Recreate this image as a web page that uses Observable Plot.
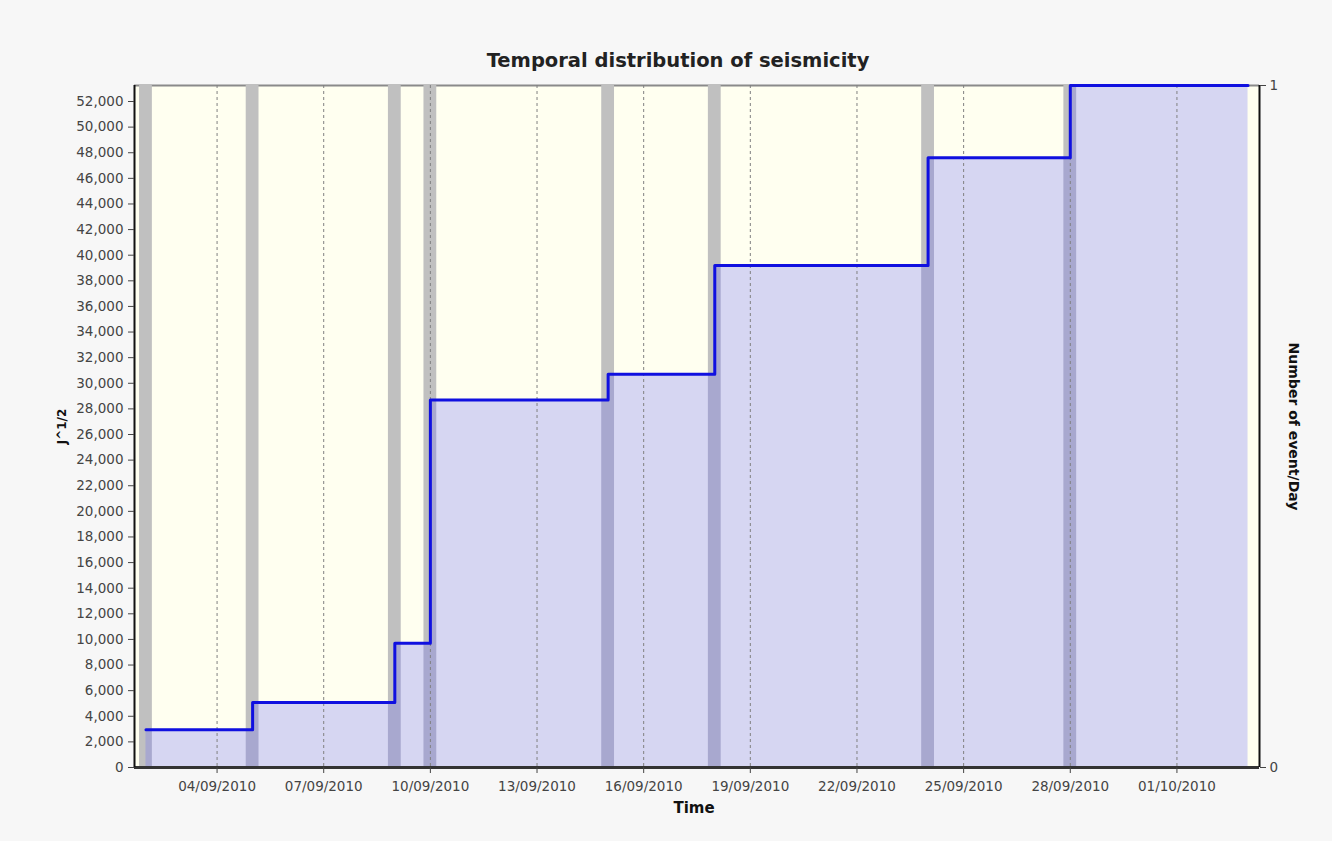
<!DOCTYPE html>
<html>
<head>
<meta charset="utf-8">
<script src="https://cdn.jsdelivr.net/npm/d3@7"></script>
<script src="https://cdn.jsdelivr.net/npm/@observablehq/plot@0.6"></script>
<style>
  html, body { margin: 0; padding: 0; background: #f7f7f7; }
  #chart svg { display: block; }
</style>
</head>
<body>
<div id="chart"></div>
<script>
// ---- data ----
const eventDays = ["2010-09-02", "2010-09-05", "2010-09-09", "2010-09-10", "2010-09-15", "2010-09-18", "2010-09-24", "2010-09-28"];
const eventsPerDay = [1, 1, 1, 1, 1, 1, 1, 1];
const cumulativeJ = [2950, 5080, 9700, 28700, 30700, 39200, 47600, 53250];
const endDay = "2010-10-03";
const xTickLabels = ["04/09/2010", "07/09/2010", "10/09/2010", "13/09/2010", "16/09/2010", "19/09/2010", "22/09/2010", "25/09/2010", "28/09/2010", "01/10/2010"];
const yTicks = d3.range(0, 52001, 2000);

// ---- derived tables ----
const parseDay = d3.utcParse("%Y-%m-%d");
const parseTick = d3.utcParse("%d/%m/%Y");
const DAY = 86400000;
const ymax = d3.max(cumulativeJ);
const bars = eventDays.map((d, i) => ({t: parseDay(d), n: eventsPerDay[i]}));
const steps = eventDays.map((d, i) => ({t: parseDay(d), v: cumulativeJ[i]}));
steps.push({t: parseDay(endDay), v: cumulativeJ[cumulativeJ.length - 1]});
const tickDates = xTickLabels.map(parseTick);
const t0 = steps[0].t, t1 = steps[steps.length - 1].t;
const pad = (t1 - t0) * 0.0104;
const xDomain = [new Date(+t0 - pad), new Date(+t1 + pad)];
const halfBar = 0.18 * DAY;

const plot = Plot.plot({
  width: 1332,
  height: 841,
  marginLeft: 134,
  marginRight: 73,
  marginTop: 85,
  marginBottom: 74,
  style: {fontFamily: "DejaVu Sans", fontSize: "13.5px", background: "transparent", color: "#444"},
  x: {type: "utc", domain: xDomain},
  y: {domain: [0, ymax]},
  marks: [
    Plot.frame({fill: "#fffff0", stroke: null}),
    Plot.ruleY([ymax], {stroke: "#8a8a8a", strokeWidth: 2}),
    Plot.rect(bars, {
      x1: d => new Date(+d.t - halfBar),
      x2: d => new Date(+d.t + halfBar),
      y1: 0,
      y2: d => d.n * ymax,
      fill: "#c0c0c0"
    }),
    Plot.areaY(steps, {x: "t", y: "v", curve: "step-after", fill: "rgb(103,103,247)", fillOpacity: 0.27}),
    Plot.ruleX(tickDates, {stroke: "#808080", strokeWidth: 1, strokeDasharray: "3,3"}),
    Plot.lineY(steps, {x: "t", y: "v", curve: "step-after", stroke: "#1010e0", strokeWidth: 3}),
    Plot.ruleY([0], {stroke: "#333", strokeWidth: 3}),
    Plot.ruleX([xDomain[0]], {stroke: "#111", strokeWidth: 2}),
    Plot.ruleX([xDomain[1]], {stroke: "#111", strokeWidth: 2}),
    Plot.axisY({anchor: "left", ticks: yTicks, tickFormat: d3.format(","), tickSize: 6, tickPadding: 5, label: null, color: "#444", fontSize: 13.5}),
    Plot.axisY({anchor: "right", ticks: [0, ymax], tickFormat: d => d3.format("d")(d / ymax), tickSize: 6, tickPadding: 4, label: null, color: "#444", fontSize: 13.5}),
    Plot.axisX({anchor: "bottom", ticks: tickDates, tickFormat: d3.utcFormat("%d/%m/%Y"), tickSize: 6, tickPadding: 8, label: null, color: "#444", fontSize: 13.5}),
    Plot.text(["Temporal distribution of seismicity"], {frameAnchor: "top", lineAnchor: "middle", dx: -19, dy: -25, fontSize: 19.5, fontWeight: "bold", fill: "#222"}),
    Plot.text(["Time"], {frameAnchor: "bottom", lineAnchor: "middle", dx: -3, dy: 41, fontSize: 15, fontWeight: "bold", fill: "#111"}),
    Plot.text(["J^1/2"], {frameAnchor: "left", textAnchor: "middle", dx: -72, rotate: -90, fontSize: 12, fontWeight: "bold", fill: "#111"}),
    Plot.text(["Number of event/Day"], {frameAnchor: "right", textAnchor: "middle", dx: 34, rotate: 90, fontSize: 14, fontWeight: "bold", fill: "#111"})
  ]
});
document.getElementById("chart").appendChild(plot);
</script>
</body>
</html>
